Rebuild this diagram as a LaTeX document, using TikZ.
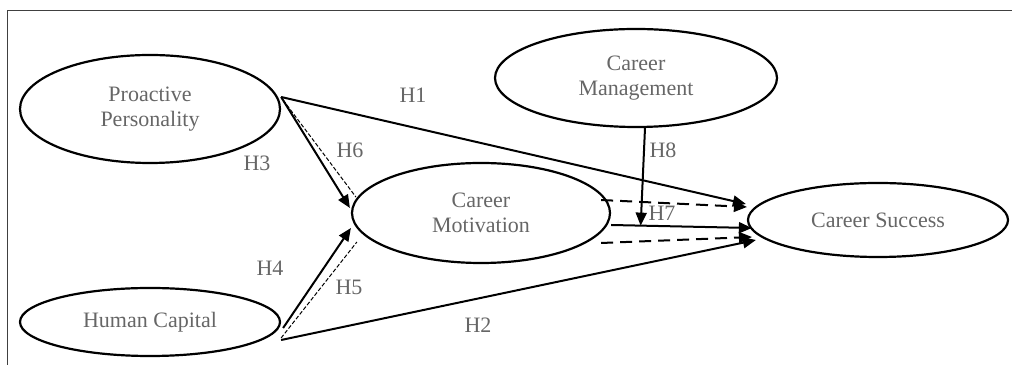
\documentclass[tikz,border=0pt]{standalone}
\usepackage{fontspec}
\setmainfont{Liberation Serif}
\usetikzlibrary{shapes.geometric,arrows.meta,calc}

\tikzset{
	factor/.style={ellipse, draw, line width=1.1pt, inner sep=0pt, align=center,
		text=black!60, font=\fontsize{11}{12.5}\selectfont},
	hyp/.style={text=black!60, font=\fontsize{11}{13}\selectfont},
	link/.style={line width=1pt, -{Triangle[length=6.5pt,width=5.5pt]}},
	modlink/.style={link, dash pattern=on 6pt off 3.5pt},
	thindash/.style={line width=0.5pt, dash pattern=on 2pt off 1pt},
}

\begin{document}
\begin{tikzpicture}[x=0.5pt,y=-0.5pt]
		\useasboundingbox (0,0) rectangle (1012,367);
		% Frame (only top and left edges visible)
		\draw[line width=0.7pt, black!75] (1012,10.5) -- (7.5,10.5) -- (7.5,365);
		% Constructs
		\node[factor, minimum width=130pt, minimum height=54pt] (proactive) at (150,109) {Proactive\\Personality};
		\node[factor, minimum width=130pt, minimum height=34pt] (human) at (150,322) {Human Capital};
		\node[factor, minimum width=141pt, minimum height=49pt] (mgmt) at (636,78) {Career\\Management};
		\node[factor, minimum width=129pt, minimum height=50pt] (motiv) at (481,213) {Career\\Motivation};
		\node[factor, minimum width=130pt, minimum height=37pt] (success) at (878,220) {Career Success};
		% Direct paths
		\draw[link] ($(proactive.east)+(0,-12)$) -- ($(success.west)+(-1,-16)$);
		\draw[link] ($(human.east)+(0,18)$) -- ($(success.west)+(9,20)$);
		\draw[link] ($(proactive.east)+(0,-12)$) -- ($(motiv.west)+(-1,-5)$);
		\draw[link] ($(human.east)+(2,6)$) -- ($(motiv.west)+(0,15)$);
		% Mediation paths
		\draw[thindash] ($(proactive.east)+(2,-9)$) -- ($(motiv.west)+(5,-16)$);
		\draw[thindash] ($(human.east)+(0,16)$) -- ($(motiv.west)+(6,29)$);
		\draw[link] ($(motiv.east)+(0,12)$) -- coordinate[pos=0.21] (h8tip) ($(success.west)+(5,8)$);
		\draw[modlink] ($(motiv.east)+(-10,-13)$) -- ($(success.west)+(0,-13)$);
		\draw[modlink] ($(motiv.east)+(-10,30)$) -- ($(success.west)+(5,17)$);
		% Moderation
		\draw[link] ($(mgmt.south)+(9,0)$) -- (h8tip);
		% Hypothesis labels
		\node[hyp] (h1) at (413,95) {H1};
		\node[hyp] (h2) at (478,325) {H2};
		\node[hyp] (h3) at (257,163) {H3};
		\node[hyp] (h4) at (270,268) {H4};
		\node[hyp] (h5) at (349,287) {H5};
		\node[hyp] (h6) at (350,150) {H6};
		\node[hyp] (h7) at (662,213) {H7};
		\node[hyp] (h8) at (663,150) {H8};
	\end{tikzpicture}
\end{document}
